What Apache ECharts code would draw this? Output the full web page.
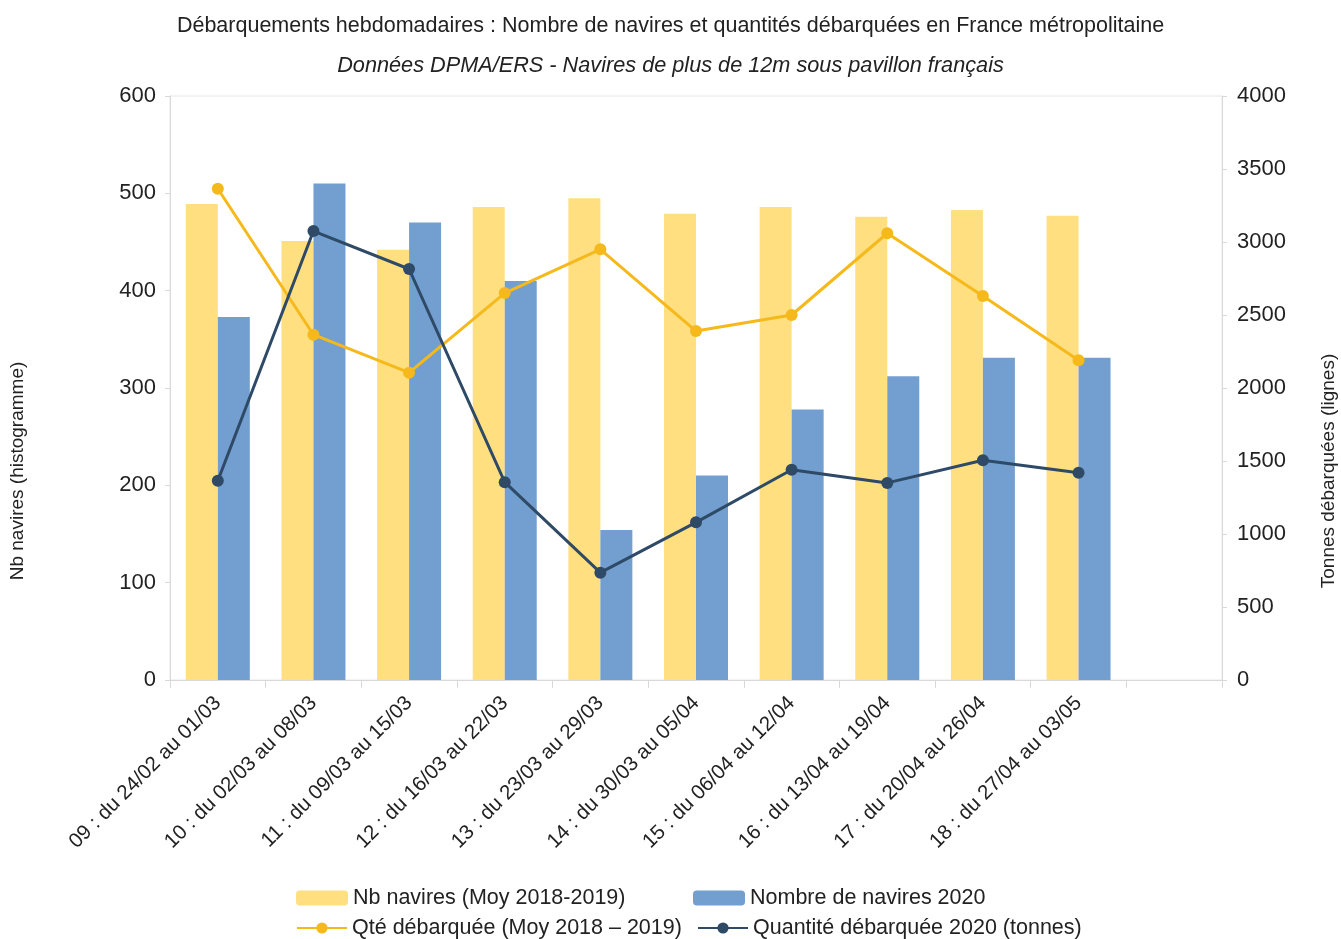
<!DOCTYPE html>
<html>
<head>
<meta charset="utf-8">
<script src="https://cdn.jsdelivr.net/npm/echarts@6.0.0/dist/echarts.min.js"></script>
<style>
  html, body { margin: 0; padding: 0; background: #fff; }
  #chart { width: 1341px; height: 939px; }
</style>
</head>
<body>
<div id="chart"></div>
<script>
const categories = [
  "09 : du 24/02 au 01/03",
  "10 : du 02/03 au 08/03",
  "11 : du 09/03 au 15/03",
  "12 : du 16/03 au 22/03",
  "13 : du 23/03 au 29/03",
  "14 : du 30/03 au 05/04",
  "15 : du 06/04 au 12/04",
  "16 : du 13/04 au 19/04",
  "17 : du 20/04 au 26/04",
  "18 : du 27/04 au 03/05",
  ""
];
const navMoy = [489, 451, 442, 486, 495, 479, 486, 476, 483, 477];
const nav2020 = [373, 510, 470, 410, 154, 210, 278, 312, 331, 331];
const qteMoy = [3365, 2365, 2105, 2650, 2950, 2390, 2500, 3060, 2630, 2190];
const qte2020 = [1365, 3075, 2815, 1355, 735, 1080, 1440, 1350, 1505, 1420];

const SANS = '"Liberation Sans", Arial, sans-serif';

const chart = echarts.init(document.getElementById("chart"));

function legendAt(name, left, top, isLine) {
  return {
    data: [name],
    left: left,
    top: top,
    itemWidth: isLine ? 50 : 52,
    itemHeight: isLine ? 14 : 15,
    padding: 0,
    textStyle: { fontFamily: SANS, fontSize: 21.5, color: "#222" },
    itemGap: 0,
    selectedMode: false
  };
}

chart.setOption({
  animation: false,
  title: [
    {
      text: "Débarquements hebdomadaires : Nombre de navires et quantités débarquées en France métropolitaine",
      left: "center",
      top: 10,
      textStyle: { fontFamily: SANS, fontSize: 21.5, fontWeight: "normal", color: "#222" }
    },
    {
      text: "Données DPMA/ERS - Navires de plus de 12m sous pavillon français",
      left: "center",
      top: 50,
      textStyle: { fontFamily: SANS, fontSize: 21.7, fontStyle: "italic", fontWeight: "normal", color: "#222" }
    }
  ],
  graphic: [
    {
      type: "text",
      x: 18,
      y: 471,
      rotation: Math.PI / 2,
      style: {
        text: "Nb navires (histogramme)",
        font: '19px "Liberation Sans", Arial, sans-serif',
        fill: "#222",
        align: "center",
        verticalAlign: "middle"
      }
    },
    {
      type: "text",
      x: 1329,
      y: 471,
      rotation: Math.PI / 2,
      style: {
        text: "Tonnes débarquées (lignes)",
        font: '19px "Liberation Sans", Arial, sans-serif',
        fill: "#222",
        align: "center",
        verticalAlign: "middle"
      }
    }
  ],
  legend: [
    legendAt("Nb navires (Moy 2018-2019)", 296, 887, false),
    legendAt("Nombre de navires 2020", 693, 887, false),
    legendAt("Qté débarquée (Moy 2018 – 2019)", 296, 917, true),
    legendAt("Quantité débarquée 2020 (tonnes)", 697, 917, true)
  ],
  grid: {
    left: 170,
    right: 119,
    top: 96,
    bottom: 259,
    show: true,
    borderColor: "#e6e6e6",
    borderWidth: 1
  },
  xAxis: {
    type: "category",
    data: categories,
    axisLine: { lineStyle: { color: "#d9d9d9", width: 1 } },
    axisTick: { show: true, length: 8, lineStyle: { color: "#d9d9d9" } },
    axisLabel: {
      interval: 0,
      rotate: 45,
      margin: 20,
      fontFamily: SANS,
      fontSize: 20.5,
      color: "#222"
    }
  },
  yAxis: [
    {
      type: "value",
      min: 0,
      max: 600,
      interval: 100,
      axisLine: { show: true, lineStyle: { color: "#d9d9d9" } },
      axisTick: { show: true, length: 5, lineStyle: { color: "#d9d9d9" } },
      splitLine: { show: false },
      axisLabel: { fontFamily: SANS, fontSize: 22, color: "#222", margin: 14 }
    },
    {
      type: "value",
      min: 0,
      max: 4000,
      interval: 500,
      axisLine: { show: true, lineStyle: { color: "#d9d9d9" } },
      axisTick: { show: true, length: 5, lineStyle: { color: "#d9d9d9" } },
      splitLine: { show: false },
      axisLabel: {
        fontFamily: SANS,
        fontSize: 22,
        color: "#222",
        margin: 15,
        formatter: (v) => String(v)
      }
    }
  ],
  series: [
    {
      name: "Nb navires (Moy 2018-2019)",
      type: "bar",
      data: navMoy,
      barWidth: 32,
      barGap: "0%",
      itemStyle: { color: "#ffdf80" }
    },
    {
      name: "Nombre de navires 2020",
      type: "bar",
      data: nav2020,
      barWidth: 32,
      barGap: "0%",
      itemStyle: { color: "#729fcf" }
    },
    {
      name: "Qté débarquée (Moy 2018 – 2019)",
      type: "line",
      yAxisIndex: 1,
      data: qteMoy,
      symbol: "circle",
      symbolSize: 12,
      lineStyle: { color: "#f6b91c", width: 3 },
      itemStyle: { color: "#f6b91c" }
    },
    {
      name: "Quantité débarquée 2020 (tonnes)",
      type: "line",
      yAxisIndex: 1,
      data: qte2020,
      symbol: "circle",
      symbolSize: 12,
      lineStyle: { color: "#2e4a66", width: 3 },
      itemStyle: { color: "#2e4a66" }
    }
  ]
});
</script>
</body>
</html>
